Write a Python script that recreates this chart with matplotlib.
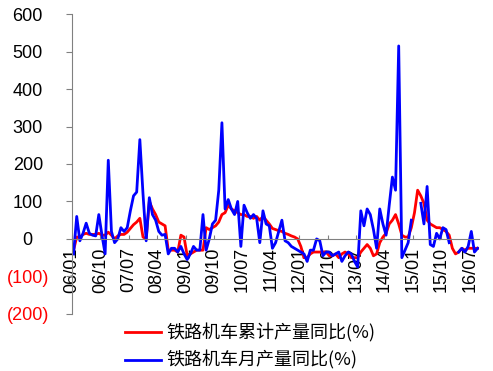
# 铁路机车产量同比 — monthly, 2006/01 to 2016/09
import matplotlib
matplotlib.use("Agg")
import matplotlib.pyplot as plt
import numpy as np

plt.rcParams['font.family'] = ['Liberation Sans', 'DejaVu Sans']

nan = np.nan

# cumulative yoy (%)
cum_yoy = [
    -30, 5, 5, 12, 15, 12, 12, 12, 15, 10,
    10, 18, 10, 0, 8, 12, 12, 18, 28, 38,
    45, 55, 5, 0, 100, 80, 65, 45, 40, 35,
    -30, -30, -30, -35, 10, 5, -45, -40, -35, -30,
    -30, -30, 30, 25, 30, 35, 45, 65, 70, 90,
    80, 75, 70, 65, 65, 60, 60, 55, 60, 50,
    60, 50, 40, 28, 25, 22, 20, 15, 12, 8,
    5, 0, -20, -50, -50, -40, -35, -35, -35, -35,
    -35, -45, -45, -40, -50, -40, -35, -40, -50, -50,
    -50, -35, -25, -15, -25, -45, -40, -10, 5, 15,
    40, 50, 65, 40, 10, 5, 5, 30, 70, 130,
    115, 95, 50, 40, 35, 30, 30, 25, 20, 10,
    -25, -40, -35, -25, -30, -25, -25, -25, -25,
]

# monthly yoy (%)
mon_yoy = [
    -40, 60, -5, 15, 42, 15, 10, 8, 65, 10,
    -40, 210, 20, -10, 0, 30, 20, 30, 75, 115,
    125, 265, 120, -5, 110, 65, 50, 20, 10, 12,
    -40, -25, -25, -35, -20, -40, -55, -40, -20, -30,
    -30, 65, -30, 0, 40, 50, 130, 310, 80, 105,
    80, 65, 100, -20, 90, 70, 55, 65, 55, -10,
    75, 40, 35, -25, -10, 20, 50, -5, -10, -20,
    -25, -30, -35, -40, -60, -30, -30, 0, -5, -45,
    -35, -35, -45, -40, -35, -60, -45, -35, -40, -60,
    -75, 75, 35, 80, 65, 25, -25, 80, 40, 10,
    90, 165, 130, 515, -50, -30, -10, 50, nan, nan,
    95, 40, 140, -15, -20, 15, 0, 30, 25, -10,
    nan, nan, -35, -25, -35, -20, 20, -35, -25,
]

tick_labels = ['06/01', '06/10', '07/07', '08/04', '09/01', '09/10', '10/07',
               '11/04', '12/01', '12/10', '13/07', '14/04', '15/01', '15/10',
               '16/07']
y_ticks = [600, 500, 400, 300, 200, 100, 0, -100, -200]
y_labels = ['600', '500', '400', '300', '200', '100', '0', '(100)', '(200)']

n = len(cum_yoy)
x = np.arange(n) + 0.5

fig = plt.figure(figsize=(4.93, 3.71), dpi=100)
ax = fig.add_axes([0.146, 0.154, 0.826, 0.808])

ax.plot(x, cum_yoy, color='#FF0000', lw=2.0, label='铁路机车累计产量同比(%)')
ax.plot(x, mon_yoy, color='#0000FF', lw=2.0, label='铁路机车月产量同比(%)')

ax.set_xlim(0, n)
ax.set_ylim(-200, 600)

grey = '#808080'
ax.spines['top'].set_visible(False)
ax.spines['right'].set_visible(False)
ax.spines['left'].set_color(grey)
ax.spines['bottom'].set_color(grey)
ax.spines['bottom'].set_position(('data', 0))

ax.set_yticks(y_ticks)
ax.set_yticklabels(y_labels, fontsize=13)
for lab, v in zip(ax.get_yticklabels(), y_ticks):
    lab.set_ha('center')
    if v < 0:
        lab.set_color('#FF0000')
ax.tick_params(axis='y', direction='out', length=4.3, color=grey, pad=27.5)

ax.set_xticks(np.arange(0, n, 9))
ax.set_xticklabels(tick_labels, rotation=90, fontsize=13, va='top')
ax.tick_params(axis='x', direction='in', length=3, color=grey, pad=6)

fig.legend(loc='upper left', bbox_to_anchor=(0.2535, 0.128), frameon=False,
           prop={'family': ['Noto Sans CJK SC', 'DejaVu Sans'], 'size': 13},
           handlelength=2.0, handletextpad=0.3, labelspacing=0.45,
           borderpad=0, borderaxespad=0)

fig.savefig('out.png', dpi=100)
